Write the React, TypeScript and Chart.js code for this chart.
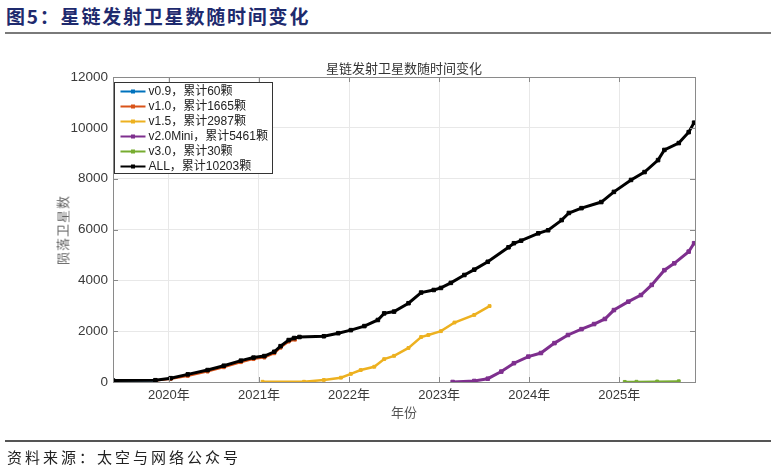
import React, { useEffect, useRef } from 'react';
import { Chart, registerables } from 'chart.js';

Chart.register(...registerables);

// ---- Data ----
const seriesLabels = [
  'v0.9，累计60颗',
  'v1.0，累计1665颗',
  'v1.5，累计2987颗',
  'v2.0Mini，累计5461颗',
  'v3.0，累计30颗',
  'ALL，累计10203颗',
];
const seriesColors = ['#0072BD', '#D95319', '#EDB120', '#7E2F8E', '#77AC30', '#000000'];

const v09Years = [2019.38, 2019.85];
const v09Counts = [60, 60];

const v10Years = [2019.86, 2020.02, 2020.21, 2020.43, 2020.61, 2020.8, 2020.94, 2021.06, 2021.17, 2021.24, 2021.33, 2021.4];
const v10Counts = [60, 120, 240, 410, 580, 780, 900, 960, 1130, 1350, 1590, 1665];

const v15Years = [2021.04, 2021.5, 2021.72, 2021.91, 2022.02, 2022.13, 2022.28, 2022.39, 2022.5, 2022.66, 2022.8, 2022.88, 2023.02, 2023.17, 2023.39, 2023.56];
const v15Counts = [10, 10, 80, 170, 320, 470, 600, 900, 1030, 1340, 1770, 1850, 2000, 2340, 2640, 2987];

const v20Years = [2023.15, 2023.39, 2023.54, 2023.69, 2023.83, 2023.99, 2024.13, 2024.28, 2024.43, 2024.58, 2024.72, 2024.84, 2024.94, 2025.1, 2025.24, 2025.36, 2025.5, 2025.61, 2025.77, 2025.83];
const v20Counts = [0, 40, 130, 410, 740, 1000, 1140, 1530, 1850, 2080, 2280, 2480, 2830, 3160, 3420, 3820, 4400, 4670, 5130, 5461];

const v30Years = [2025.06, 2025.19, 2025.42, 2025.66];
const v30Counts = [5, 10, 20, 30];

const allYears = [2019.38, 2019.85, 2020.02, 2020.21, 2020.43, 2020.61, 2020.8, 2020.94, 2021.06, 2021.17, 2021.24, 2021.33, 2021.39, 2021.45, 2021.72, 2021.88, 2022.02, 2022.17, 2022.32, 2022.39, 2022.5, 2022.66, 2022.8, 2022.94, 2023.02, 2023.13, 2023.28, 2023.39, 2023.54, 2023.77, 2023.83, 2023.91, 2024.1, 2024.21, 2024.36, 2024.44, 2024.58, 2024.8, 2024.94, 2025.13, 2025.28, 2025.43, 2025.5, 2025.66, 2025.77, 2025.83];
const allCounts = [60, 70, 150, 300, 470, 640, 840, 960, 1020, 1190, 1410, 1650, 1730, 1770, 1800, 1920, 2040, 2200, 2440, 2700, 2770, 3100, 3520, 3620, 3700, 3900, 4210, 4420, 4730, 5300, 5460, 5560, 5850, 5970, 6370, 6650, 6840, 7080, 7480, 7950, 8260, 8730, 9130, 9400, 9830, 10203];

const yearTicks = [2020, 2021, 2022, 2023, 2024, 2025];
const countTicks = [0, 2000, 4000, 6000, 8000, 10000, 12000];

const seriesYears = [v09Years, v10Years, v15Years, v20Years, v30Years, allYears];
const seriesCounts = [v09Counts, v10Counts, v15Counts, v20Counts, v30Counts, allCounts];

const FONT = "'Liberation Sans', 'Noto Sans CJK SC', sans-serif";
const CJK = "'Noto Sans CJK SC', 'Liberation Sans', sans-serif";

const framePlugin = {
  id: 'frameAndLegend',
  afterDatasetsDraw(chart: any) {
    const { ctx, chartArea: a, scales } = chart;
    ctx.save();
    ctx.strokeStyle = '#8a8a8a';
    ctx.lineWidth = 1;
    ctx.strokeRect(Math.round(a.left) + 0.5, Math.round(a.top) + 0.5, Math.round(a.right - a.left), Math.round(a.bottom - a.top));
    ctx.beginPath();
    yearTicks.forEach((v) => {
      const x = Math.round(scales.x.getPixelForValue(v)) + 0.5;
      ctx.moveTo(x, a.bottom);
      ctx.lineTo(x, a.bottom - 5);
      ctx.moveTo(x, a.top);
      ctx.lineTo(x, a.top + 5);
    });
    countTicks.forEach((v) => {
      const y = Math.round(scales.y.getPixelForValue(v)) + 0.5;
      ctx.moveTo(a.left, y);
      ctx.lineTo(a.left + 5, y);
      ctx.moveTo(a.right, y);
      ctx.lineTo(a.right - 5, y);
    });
    ctx.stroke();
    ctx.restore();
  },
  afterDraw(chart: any) {
    const { ctx, chartArea: a } = chart;
    const bx = a.left + 1.5;
    const by = a.top + 5.5;
    const bw = 158;
    const bh = 91;
    ctx.save();
    ctx.fillStyle = '#ffffff';
    ctx.fillRect(bx, by, bw, bh);
    ctx.strokeStyle = '#333333';
    ctx.lineWidth = 1;
    ctx.strokeRect(bx, by, bw, bh);
    chart.data.datasets.forEach((ds: any, i: number) => {
      const y = by + 9 + i * 15;
      ctx.strokeStyle = ds.borderColor;
      ctx.lineWidth = 2;
      ctx.beginPath();
      ctx.moveTo(bx + 6, y);
      ctx.lineTo(bx + 31, y);
      ctx.stroke();
      ctx.fillStyle = ds.borderColor;
      ctx.fillRect(bx + 16.5, y - 2, 4, 4);
      ctx.fillStyle = '#222222';
      ctx.font = `12px ${FONT}`;
      ctx.textBaseline = 'middle';
      ctx.textAlign = 'left';
      ctx.fillText(ds.label, bx + 34, y + 0.5);
    });
    ctx.restore();
  },
};

export default function App() {
  const canvasRef = useRef<HTMLCanvasElement | null>(null);

  useEffect(() => {
    const canvas = canvasRef.current;
    if (!canvas) return;
    const widths = [2, 2, 2.5, 3, 2, 3];
    const datasets = seriesLabels.map((label, i) => ({
      label,
      data: seriesYears[i].map((x, j) => ({ x, y: seriesCounts[i][j] })),
      borderColor: seriesColors[i],
      backgroundColor: seriesColors[i],
      borderWidth: widths[i],
      pointRadius: i === 5 || i === 3 ? 2.5 : 2,
      pointStyle: 'rect' as const,
      pointBorderWidth: 1,
      tension: 0,
      order: i === 5 ? 0 : 1,
    }));
    const chart = new Chart(canvas, {
      type: 'line',
      data: { datasets },
      plugins: [framePlugin],
      options: {
        animation: false,
        responsive: false,
        devicePixelRatio: 1,
        layout: { padding: { top: 77, right: 79, bottom: 0, left: 0 } },
        plugins: { legend: { display: false }, tooltip: { enabled: false }, title: { display: false } },
        scales: {
          x: {
            type: 'linear',
            min: 2019.38,
            max: 2025.84,
            afterBuildTicks: (s: any) => {
              s.ticks = yearTicks.map((value) => ({ value }));
            },
            afterFit: (s: any) => {
              s.height = 89;
            },
            grid: { color: '#e8e8e8', drawTicks: false },
            border: { display: false },
            ticks: {
              autoSkip: false,
              maxRotation: 0,
              padding: 6,
              color: '#3a3a3a',
              font: { family: FONT, size: 13 },
              callback: (v: any) => `${v}年`,
            },
          },
          y: {
            type: 'linear',
            min: 0,
            max: 12000,
            afterBuildTicks: (s: any) => {
              s.ticks = countTicks.map((value) => ({ value }));
            },
            afterFit: (s: any) => {
              s.width = 113;
            },
            grid: { color: '#e8e8e8', drawTicks: false },
            border: { display: false },
            ticks: {
              padding: 5,
              color: '#3a3a3a',
              font: { family: FONT, size: 13.5 },
              callback: (v: any) => `${v}`,
            },
          },
        },
      },
    });
    return () => chart.destroy();
  }, []);

  return (
    <div style={{ position: 'fixed', left: 0, top: 0, width: 774, height: 471, background: '#ffffff', overflow: 'hidden' }}>
      <div
        style={{
          position: 'absolute', left: 6, top: 4, fontFamily: CJK, fontWeight: 700, fontSize: 19,
          letterSpacing: '1.8px', color: '#1e2a6e', whiteSpace: 'nowrap', lineHeight: '24px',
        }}
      >
        图5：星链发射卫星数随时间变化
      </div>
      <div style={{ position: 'absolute', left: 5, top: 32, width: 766, height: 2, background: '#7a7a7a' }} />
      <canvas ref={canvasRef} width={774} height={471} style={{ position: 'absolute', left: 0, top: 0 }} />
      <div
        style={{
          position: 'absolute', left: 404, top: 67, transform: 'translate(-50%, -50%)', fontFamily: CJK,
          fontSize: 13, color: '#333', whiteSpace: 'nowrap',
        }}
      >
        星链发射卫星数随时间变化
      </div>
      <div
        style={{
          position: 'absolute', left: 404, top: 411, transform: 'translate(-50%, -50%)', fontFamily: CJK,
          fontSize: 13, color: '#555', whiteSpace: 'nowrap',
        }}
      >
        年份
      </div>
      <div
        style={{
          position: 'absolute', left: 62, top: 230, transform: 'translate(-50%, -50%) rotate(-90deg)',
          fontFamily: CJK, fontSize: 13, color: '#666', whiteSpace: 'nowrap', letterSpacing: '1px',
        }}
      >
        陨落卫星数
      </div>
      <div style={{ position: 'absolute', left: 5, top: 440, width: 766, height: 1.5, background: '#555' }} />
      <div
        style={{
          position: 'absolute', left: 7, top: 446, fontFamily: CJK, fontSize: 15, letterSpacing: '3px',
          color: '#222', whiteSpace: 'nowrap', lineHeight: '22px',
        }}
      >
        资料来源：太空与网络公众号
      </div>
    </div>
  );
}
